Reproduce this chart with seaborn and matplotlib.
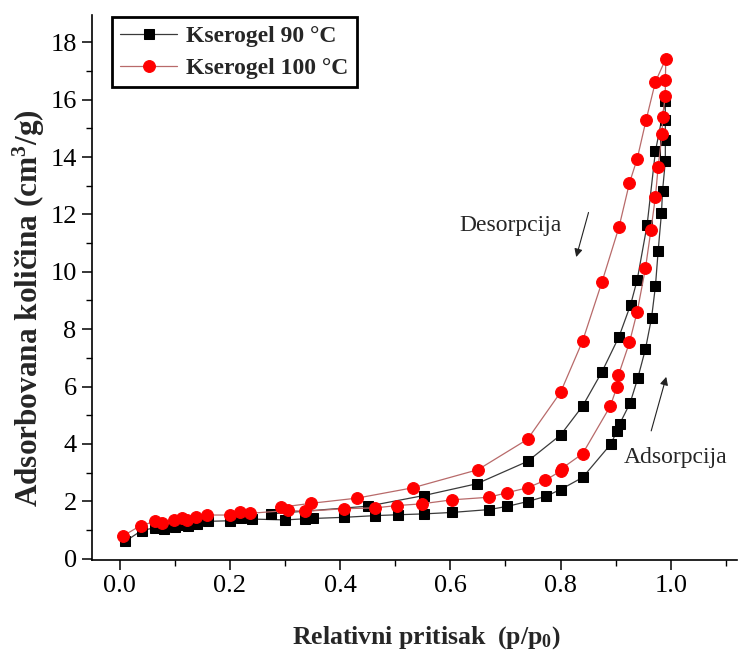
import numpy as np
import pandas as pd
import matplotlib
matplotlib.use("Agg")
import matplotlib.pyplot as plt
import seaborn as sns
from matplotlib.ticker import MultipleLocator

# ---- data ----
# Kserogel 90 °C : adsorption branch followed by desorption branch
p_90 = [0.010, 0.040, 0.065, 0.080, 0.100, 0.115, 0.125, 0.140, 0.160, 0.200, 0.220, 0.240,
        0.300, 0.337, 0.350, 0.407, 0.464, 0.505, 0.552, 0.603, 0.670, 0.703, 0.740, 0.773,
        0.800, 0.840, 0.891, 0.902, 0.907, 0.926, 0.940, 0.954, 0.965, 0.972, 0.977, 0.983,
        0.985, 0.990, 0.990, 0.990, 0.990,
        0.972, 0.957, 0.939, 0.927, 0.906, 0.875, 0.840, 0.800, 0.740, 0.648, 0.552, 0.451,
        0.274]
v_90 = [0.60, 0.98, 1.08, 1.05, 1.12, 1.18, 1.15, 1.22, 1.30, 1.32, 1.40, 1.38,
        1.35, 1.39, 1.40, 1.44, 1.50, 1.53, 1.56, 1.61, 1.71, 1.82, 1.99, 2.17,
        2.41, 2.83, 3.99, 4.44, 4.69, 5.42, 6.29, 7.31, 8.39, 9.49, 10.73, 12.05,
        12.83, 13.86, 14.60, 15.30, 15.95,
        14.20, 11.64, 9.72, 8.85, 7.74, 6.51, 5.32, 4.31, 3.39, 2.61, 2.20, 1.83,
        1.56]

# Kserogel 100 °C : adsorption branch followed by desorption branch
p_100 = [0.007, 0.038, 0.065, 0.077, 0.098, 0.114, 0.123, 0.138, 0.159, 0.201, 0.219, 0.237,
         0.306, 0.337, 0.407, 0.464, 0.503, 0.548, 0.603, 0.670, 0.703, 0.740, 0.772, 0.800,
         0.802, 0.840, 0.890, 0.902, 0.905, 0.925, 0.939, 0.954, 0.964, 0.972, 0.977, 0.984,
         0.985, 0.990, 0.990, 0.991,
         0.972, 0.955, 0.939, 0.925, 0.906, 0.875, 0.840, 0.800, 0.740, 0.650, 0.532, 0.431,
         0.348, 0.292]
v_100 = [0.80, 1.15, 1.30, 1.25, 1.33, 1.41, 1.35, 1.44, 1.52, 1.52, 1.62, 1.58,
         1.68, 1.65, 1.74, 1.77, 1.85, 1.91, 2.05, 2.14, 2.30, 2.47, 2.73, 3.05,
         3.14, 3.66, 5.31, 5.97, 6.40, 7.54, 8.61, 10.13, 11.47, 12.61, 13.66, 14.79,
         15.41, 16.13, 16.69, 17.43,
         16.62, 15.28, 13.94, 13.10, 11.56, 9.64, 7.59, 5.80, 4.16, 3.10, 2.47, 2.11,
         1.93, 1.79]

labels = ["Kserogel 90 \u00b0C", "Kserogel 100 \u00b0C"]
x_ticks = [0.0, 0.2, 0.4, 0.6, 0.8, 1.0]
y_ticks = [0, 2, 4, 6, 8, 10, 12, 14, 16, 18]

# ---- style ----
sns.set_theme(style="ticks")
plt.rcParams["font.family"] = ["Liberation Serif", "DejaVu Serif"]
plt.rcParams["mathtext.fontset"] = "custom"
plt.rcParams["mathtext.rm"] = "Liberation Serif"
plt.rcParams["mathtext.bf"] = "Liberation Serif:bold"
plt.rcParams["mathtext.it"] = "Liberation Serif:italic"
plt.rcParams["mathtext.default"] = "regular"

fig = plt.figure(figsize=(7.38, 6.66), dpi=100)
ax = fig.add_axes([92 / 738, 106.5 / 666, 645 / 738, 544.5 / 666])

df90 = pd.DataFrame({"p": p_90, "v": v_90})
df100 = pd.DataFrame({"p": p_100, "v": v_100})

sns.lineplot(data=df90, x="p", y="v", sort=False, estimator=None, ax=ax,
             color="#3a3a3a", linewidth=0.9, marker="s", markersize=7,
             markerfacecolor="black", markeredgecolor="black", label=labels[0])
sns.lineplot(data=df100, x="p", y="v", sort=False, estimator=None, ax=ax,
             color="#b86a6a", linewidth=0.9, marker="o", markersize=8.5,
             markerfacecolor="#ff0000", markeredgecolor="#ff0000", label=labels[1])

ax.set_xlim(-0.05, 1.12)
ax.set_ylim(-0.03, 18.95)
ax.set_xticks(x_ticks)
ax.set_xticklabels([f"{t:.1f}" for t in x_ticks])
ax.set_yticks(y_ticks)
ax.set_yticklabels([str(t) for t in y_ticks])
ax.xaxis.set_minor_locator(MultipleLocator(0.1))
ax.yaxis.set_minor_locator(MultipleLocator(1))

for s in ["top", "right"]:
    ax.spines[s].set_visible(False)
for s in ["left", "bottom"]:
    ax.spines[s].set_linewidth(1.2)
    ax.spines[s].set_color("black")

ax.tick_params(axis="both", which="major", direction="out", length=7, width=1.1,
               labelsize=19, pad=4, colors="black")
ax.tick_params(axis="both", which="minor", direction="out", length=4, width=1.0,
               colors="black")

ax.set_xlabel("Relativni pritisak  (p/p$_0$)", fontsize=18.5, fontweight="bold", labelpad=20)
ax.set_ylabel("Adsorbovana koli\u010dina (cm$^3$/g)", fontsize=22.5, fontweight="bold", labelpad=2)
ax.xaxis.label.set_x((426 - 92) / 645)
ax.yaxis.label.set_y(0.461)

# annotations
ax.text(0.7095, 11.61, "Desorpcija", ha="center", va="center", fontsize=17)
ax.annotate("", xy=(0.827, 10.42), xytext=(0.852, 12.16),
            arrowprops=dict(arrowstyle="-|>", color="#222222", lw=0.8, mutation_scale=12))
ax.text(0.915, 3.53, "Adsorpcija", ha="left", va="center", fontsize=17)
ax.annotate("", xy=(0.993, 6.43), xytext=(0.963, 4.36),
            arrowprops=dict(arrowstyle="-|>", color="#222222", lw=0.8, mutation_scale=12))

leg = ax.legend(loc="upper left", bbox_to_anchor=(112 / 738, 1 - 17 / 666),
                bbox_transform=fig.transFigure, borderaxespad=0, fancybox=False,
                frameon=True, edgecolor="black", framealpha=1,
                prop={"weight": "bold", "size": 17}, handlelength=2.4,
                borderpad=0.35, labelspacing=0.45, handletextpad=0.4)
leg.get_frame().set_linewidth(2.0)

fig.savefig("out.png", dpi=100)
